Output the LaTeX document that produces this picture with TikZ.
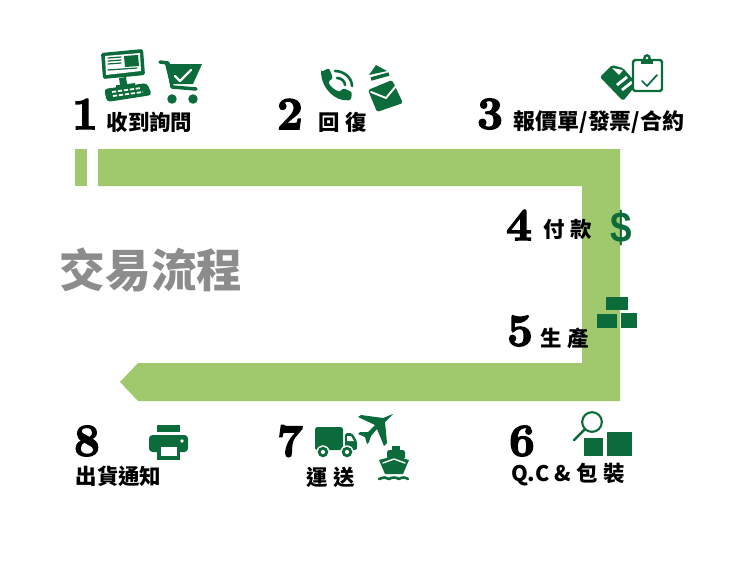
\documentclass[tikz,border=0pt]{standalone}
\usepackage{fontspec}
\usepackage{xcolor}
\newfontfamily\cjkfont{Noto Sans CJK TC}
\newfontfamily\sansfont{Liberation Sans}
\newfontfamily\numfont{Latin Modern Roman}[BoldFeatures={FakeBold=3.4}]
\definecolor{trackgreen}{HTML}{A0C86C}
\definecolor{icongreen}{HTML}{0C6B3B}
\definecolor{titlegray}{HTML}{8C8C8C}
\tikzset{
  stepnum/.style={font=\numfont\bfseries\fontsize{26}{26}\selectfont,inner sep=0pt,text=black},
  steplabel/.style={font=\cjkfont\bfseries\fontsize{12.2}{12.2}\selectfont,inner sep=0pt,text=black},
  iconfill/.style={fill=icongreen,draw=none},
  iconcut/.style={fill=white,draw=none},
  iconline/.style={draw=icongreen,line width=1.5pt,line cap=round,line join=round},
  cutline/.style={draw=white,line width=1.1pt,line join=round}
}
\begin{document}
\begin{tikzpicture}[x=0.02cm,y=-0.02cm,line cap=round]
\useasboundingbox (0,0) rectangle (750,562);
% track
\fill[trackgreen] (75,149) rectangle (87,186);
\fill[trackgreen] (98,149) -- (620,149) -- (620,401) -- (138,401) -- (120,382) -- (138,363) -- (582,363) -- (582,186) -- (98,186) -- cycle;
\node[font=\cjkfont\bfseries\fontsize{26}{26}\selectfont,text=titlegray,inner sep=0pt] (title) at (151,270) {交易流程};
% numbers
\node[stepnum] (n1) at (85,114) {1};
\node[stepnum] (n2) at (290,114) {2};
\node[stepnum] (n3) at (490,114) {3};
\node[stepnum] (n4) at (519,225) {4};
\node[stepnum] (n5) at (520,331) {5};
\node[stepnum] (n6) at (522,441) {6};
\node[stepnum] (n7) at (290,441) {7};
\node[stepnum] (n8) at (87,441) {8};
% labels
\node[steplabel] (l1) at (149.5,122) {收到詢問};
\node[steplabel] (l2) at (343,122) {回\hspace{3pt}復};
\node[steplabel,font=\cjkfont\bfseries\fontsize{12.5}{12.5}\selectfont] (l3) at (599,122) {報價單/發票/合約};
\node[steplabel] (l4) at (568,229) {付\hspace{3pt}款};
\node[steplabel] (l5) at (565,338) {生\hspace{3pt}產};
\node[steplabel] (l6) at (568,475) {Q.C\hspace{3pt}\&\hspace{3pt}包\hspace{3pt}裝};
\node[steplabel] (l7) at (331,477) {運\hspace{3pt}送};
\node[steplabel] (l8) at (118.5,476) {出貨通知};
% computer
\fill[iconfill,rounded corners=1pt] (101,53) -- (143,49) -- (145,75) -- (103,79) -- cycle;
\fill[iconcut] (105,56) -- (140,53) -- (141,71) -- (106,75) -- cycle;
\fill[iconfill] (124,56) -- (138,55) -- (139,66) -- (125,67) -- cycle;
\draw[icongreen,line width=0.7pt] (108,58) -- (121,57) (108,61) -- (121,60) (108,64) -- (121,63) (108,70) -- (137,68);
\fill[iconfill] (119,78) -- (126,77) -- (127,84) -- (135,83) -- (135,86) -- (116,88) -- (116,85) -- (120,85) -- cycle;
\fill[iconfill,rounded corners=2pt] (104,89) -- (147,83) -- (152,95) -- (107,102) -- cycle;
\draw[white,line width=1pt,dash pattern=on 2.4pt off 1pt,line cap=butt] (112,92) -- (141,88) (113,96) -- (143,92);
% cart
\draw[iconline,line width=2pt] (160,62) -- (168,63) -- (172,87) -- (196,89);
\fill[iconfill] (165,64) -- (202,64) -- (193,84) -- (170,84) -- cycle;
\draw[cutline,line width=1.3pt] (175,76) -- (180,81) -- (191,70);
\fill[icongreen] (172,99) circle (2.7pt) (193,99) circle (2.7pt);
% phone
\fill[iconfill,rounded corners=1.2pt] (321,72) -- (329,68) -- (333,78) -- (328,82) .. controls (331,87) and (335,90) .. (340,92) -- (343,88) -- (352,92) -- (351,100) .. controls (335,102) and (322,88) .. cycle;
\draw[iconline] (335,71) .. controls (344,71) and (352,78) .. (352,86);
\draw[iconline] (337,78) .. controls (341,78) and (345,81) .. (345,85);
% mail
\fill[iconfill] (376,65) -- (369,75) -- (387,71) -- cycle;
\draw[iconline,line width=2pt,line cap=butt] (371,79) -- (389,74);
\fill[iconfill,rounded corners=1pt] (368,90) -- (392,80) -- (403,103) -- (377,112) -- cycle;
\draw[cutline] (371,92) -- (386,98) -- (396,86);
% papers
\fill[iconfill,rounded corners=1pt] (600,77) -- (612,65) -- (623,68) -- (637,84) -- (623,101) -- cycle;
\fill[iconcut] (612,68) -- (623,70) -- (619,75) -- cycle;
\draw[cutline,line width=1.6pt,line cap=butt] (617,85) -- (627,77) (622,90) -- (632,82);
\draw[fill=white,draw=icongreen,line width=1.4pt,rounded corners=1pt] (633,60) rectangle (662,91);
\fill[iconfill] (641,60) rectangle (653,64);
\fill[icongreen] (647,58) circle (2.2pt);
\fill[white] (647,58) circle (0.8pt);
\draw[iconline,line width=1pt] (642,81) -- (647,86) -- (657,75);
% dollar
\node[font=\sansfont\bfseries\fontsize{22}{22}\selectfont,text=icongreen,inner sep=0pt,yscale=1.12] (dollar) at (621,228) {\$};
% blocks
\fill[iconfill] (606,297) rectangle (628,310);
\fill[iconfill] (597,314) rectangle (617,328);
\fill[iconfill] (621,313) rectangle (637,328);
% magnifier
\draw[iconline,fill=white,line width=1.2pt] (592,422) circle (5.6pt);
\draw[iconline,line width=1.4pt] (574,440) -- (585,429);
\fill[iconfill] (584,438) rectangle (603,456);
\fill[iconfill] (607,432) rectangle (632,456);
% truck
\fill[iconfill,rounded corners=1pt] (315,427) rectangle (343,450);
\fill[iconfill,rounded corners=1pt] (345,433) -- (352,433) -- (357,441) -- (357,450) -- (345,450) -- cycle;
\fill[iconcut] (347,436) -- (351,436) -- (354,441) -- (347,441) -- cycle;
\fill[white] (323,452) circle (3.8pt) (347,452) circle (3.8pt);
\fill[icongreen] (323,452) circle (3pt) (347,452) circle (3pt);
\fill[white] (323,452) circle (1.2pt) (347,452) circle (1.2pt);
% plane
\fill[iconfill] (393,414) -- (383,418) -- (361,415) -- (358,417) -- (375,425) -- (368,432) -- (360,432) -- (358,434) -- (365,437) -- (367,444) -- (369,442) -- (371,436) -- (377,429) -- (384,446) -- (387,443) -- (385,422) -- cycle;
% ship
\fill[iconfill] (392,446) rectangle (400,451);
\fill[iconfill,rounded corners=1pt] (387,450) rectangle (405,459);
\fill[iconfill] (379,460) -- (394,456) -- (409,460) -- (403,474) -- (385,474) -- cycle;
\draw[cutline,line width=0.8pt] (383,463) -- (394,459) -- (405,463);
\draw[iconline,line width=1.5pt] (379,479) .. controls (384,477) and (386,477) .. (389,479) .. controls (392,477) and (396,477) .. (399,479) .. controls (402,477) and (405,477) .. (408,479);
% printer
\fill[iconfill] (157,425) rectangle (180,432);
\fill[iconfill,rounded corners=2pt] (149,435) rectangle (188,452);
\fill[iconfill] (157,450) rectangle (180,460);
\fill[iconcut] (161,447) rectangle (177,456);
\fill[white] (182,441) circle (1.1pt);
\end{tikzpicture}
\end{document}
